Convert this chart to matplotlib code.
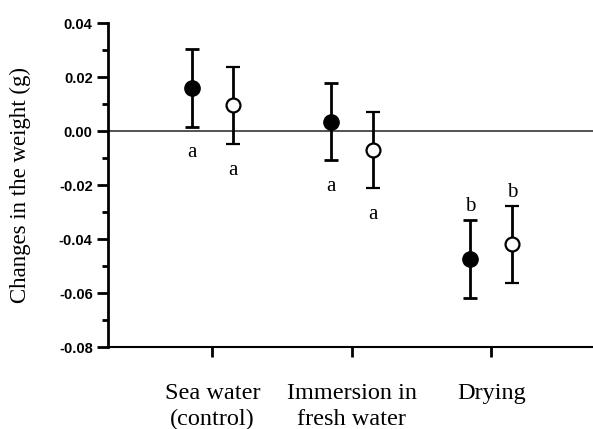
import matplotlib.pyplot as plt
from matplotlib.ticker import MultipleLocator

# values
tratamentos = ["Sea water\n(control)", "Immersion in\nfresh water", "Drying"]
media_cheio = [0.016, 0.0035, -0.0475]
erro_cheio = [0.0143, 0.0142, 0.0144]
media_vazio = [0.0095, -0.0070, -0.0420]
erro_vazio = [0.0143, 0.0142, 0.0141]
letras_cheio = ["a", "a", "b"]
letras_vazio = ["a", "a", "b"]

serif = ["Liberation Serif", "DejaVu Serif"]

fig = plt.figure(figsize=(5.93, 4.29), dpi=100)
ax = fig.add_axes([0.182, 0.191, 0.818, 0.755])

x = list(range(len(tratamentos)))
desl = 0.15
x1 = [i - desl for i in x]
x2 = [i + desl for i in x]

ax.axhline(0, color="#444444", lw=1.3, zorder=1)

ax.errorbar(x1, media_cheio, yerr=erro_cheio, fmt="o", color="black",
            mfc="black", mec="black", ms=11, elinewidth=2, capsize=5,
            capthick=2, zorder=3)
ax.errorbar(x2, media_vazio, yerr=erro_vazio, fmt="o", color="black",
            mfc="white", mec="black", mew=1.6, ms=10, elinewidth=2,
            capsize=5, capthick=2, zorder=3)

# letters: below the bar for 'a', above for 'b'
def letras(xs, ms, es, ls):
    for xi, m, e, l in zip(xs, ms, es, ls):
        if l == "b":
            ax.annotate(l, (xi, m + e), xytext=(0, 3), textcoords="offset points",
                        ha="center", va="bottom", fontsize=15, family=serif)
        else:
            ax.annotate(l, (xi, m - e), xytext=(0, -12), textcoords="offset points",
                        ha="center", va="top", fontsize=15, family=serif)

letras(x1, media_cheio, erro_cheio, letras_cheio)
letras(x2, media_vazio, erro_vazio, letras_vazio)

ax.set_xlim(-0.75, 2.73)
ax.set_ylim(-0.08, 0.04)
ax.yaxis.set_major_locator(MultipleLocator(0.02))
ax.yaxis.set_minor_locator(MultipleLocator(0.01))
ax.yaxis.set_major_formatter(plt.FuncFormatter(lambda v, p: f"{v:.2f}"))

ax.set_xticks(x)
ax.set_xticklabels(tratamentos, family=serif, fontsize=17.5, linespacing=1.3)
for t in ax.get_yticklabels():
    t.set_fontfamily(["Liberation Sans", "DejaVu Sans"])
    t.set_fontweight("bold")
    t.set_fontsize(10.5)

ax.spines["top"].set_visible(False)
ax.spines["right"].set_visible(False)
ax.spines["left"].set_linewidth(2)
ax.spines["bottom"].set_linewidth(1.5)
ax.tick_params(axis="y", which="major", length=8, width=2, pad=3)
ax.tick_params(axis="y", which="minor", length=4, width=2)
ax.tick_params(axis="x", length=7, width=2, pad=19)

ax.set_ylabel("Changes in the weight (g)", family=serif, fontsize=16.5, labelpad=20)

fig.savefig("out.png", dpi=100, facecolor="white")
